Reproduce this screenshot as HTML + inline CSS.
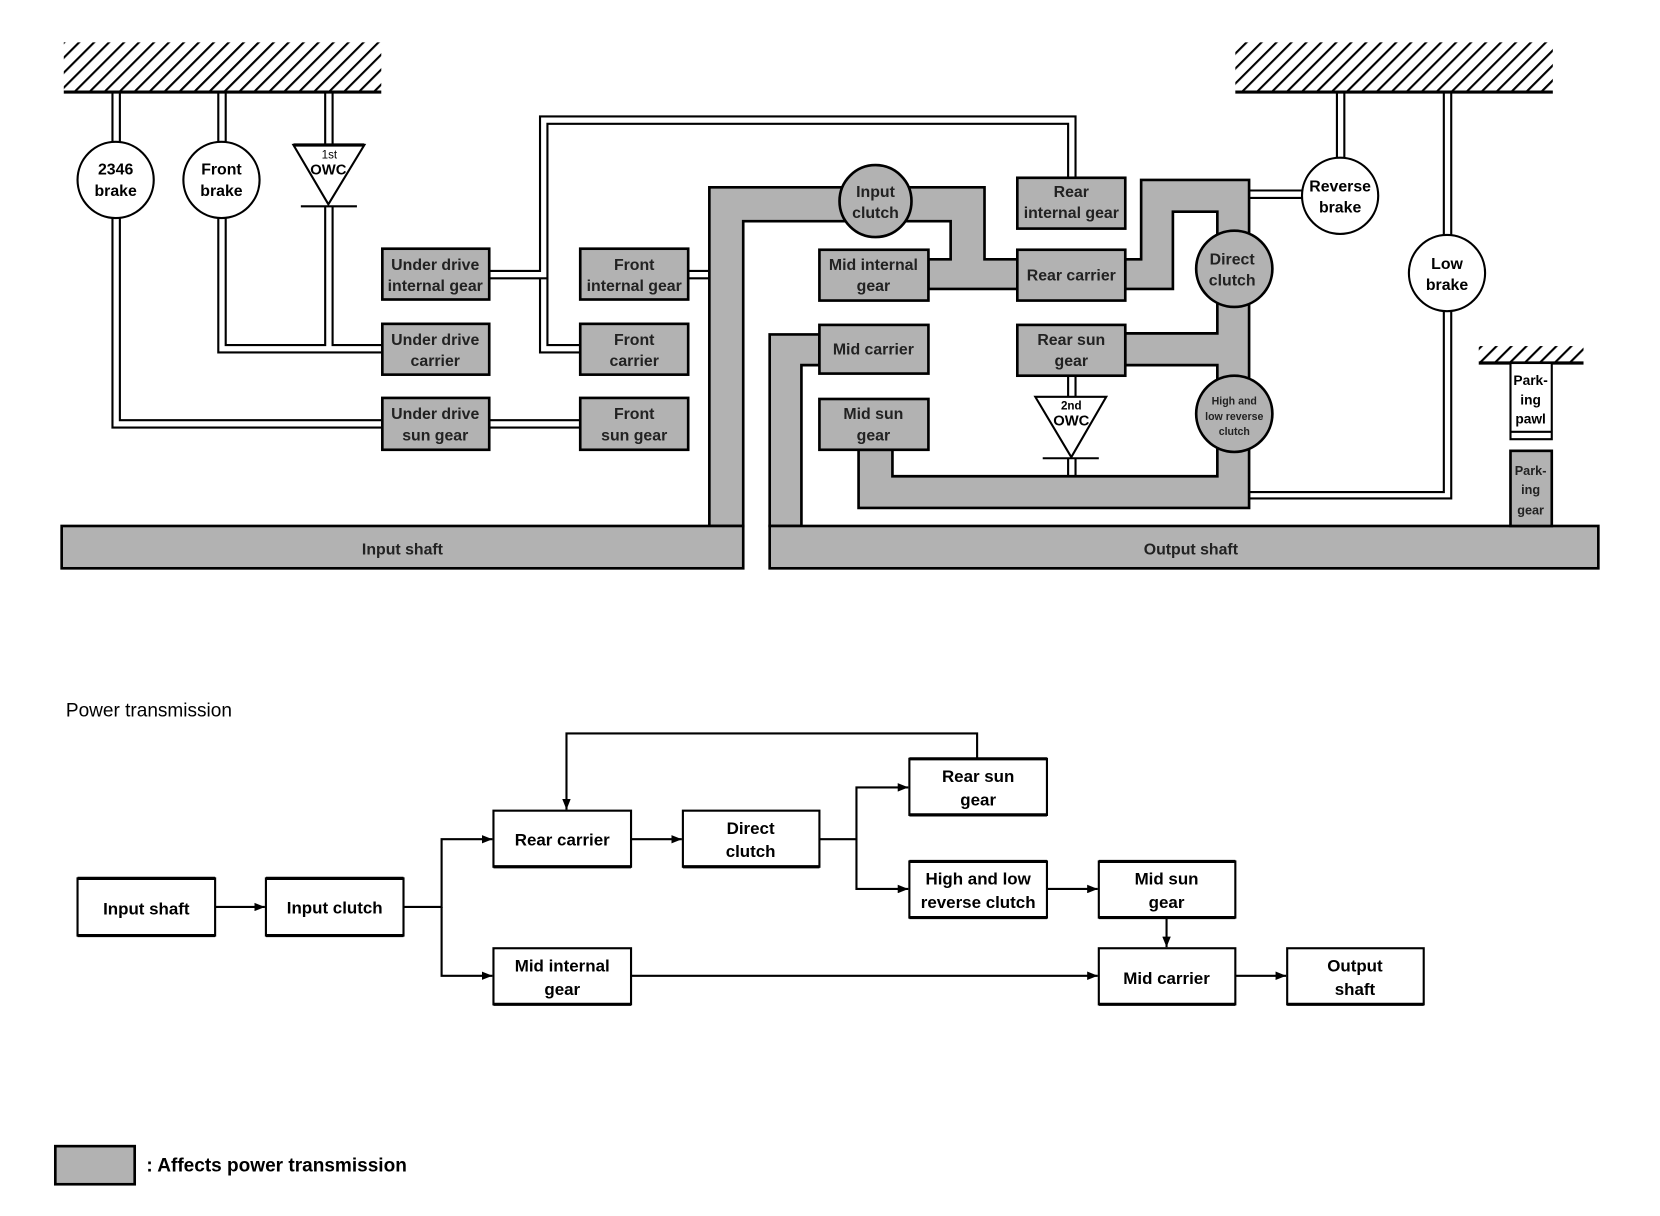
<!DOCTYPE html>
<html><head><meta charset="utf-8"><style>
html,body{margin:0;padding:0;background:#fff;}
svg{display:block}
text{font-family:"Liberation Sans",Arial,sans-serif;font-weight:bold;text-anchor:middle;}
.sh{fill:#b2b2b2;stroke:#000;stroke-width:2.5}
.bx{fill:#fff;stroke:#000;stroke-width:2}
.l{fill:none;stroke:#000;stroke-width:2}
.t{font-size:15px;fill:#222}
.w{font-size:15px;fill:#000}
.f{font-size:16px;font-weight:bold;fill:#000}
</style></head><body>
<svg width="1660" height="1216" viewBox="0 0 1568 1149" xmlns="http://www.w3.org/2000/svg">
<defs>
<pattern id="h" width="10" height="10" patternUnits="userSpaceOnUse" patternTransform="rotate(45)">
<rect width="10" height="10" fill="#fff"/><rect width="2" height="10" fill="#000"/>
</pattern>
<marker id="a" markerWidth="10" markerHeight="8" refX="10" refY="4" orient="auto" markerUnits="userSpaceOnUse">
<path d="M0,0 L10,4 L0,8 z" fill="#000"/></marker>
</defs>

<rect x="60" y="40" width="300" height="46" fill="url(#h)"/><line x1="60" y1="87" x2="360" y2="87" stroke="#000" stroke-width="3"/>
<rect x="1167" y="40" width="300" height="46" fill="url(#h)"/><line x1="1167" y1="87" x2="1467" y2="87" stroke="#000" stroke-width="3"/>
<rect x="1397" y="327" width="99" height="15" fill="url(#h)"/><line x1="1397" y1="343" x2="1496" y2="343" stroke="#000" stroke-width="3"/>

<g class="l">
<path d="M106,88 V134 M113,88 V134"/>
<path d="M106,206 V404 H361 M113,206 V397 H361"/>
<path d="M462,397 H548 M462,404 H548"/>
<path d="M206,88 V134 M213,88 V134"/>
<path d="M206,206 V333 H361 M213,206 V326 H307 V195 M314,195 V326 H361"/>
<path d="M307,88 V137 M314,88 V137"/>
<path d="M462,256 H510 V110 H1016 V168 M462,263 H517 V117 H1009 V168"/>
<path d="M510,263 V333 H548 M517,263 V326 H548"/>
<path d="M650,256 H670 M650,263 H670"/>
<path d="M1263,88 V149 M1270,88 V149 M1180,180 H1230 M1180,187 H1230"/>
<path d="M1364,88 V222 M1371,88 V222 M1364,294 V465 H1180 M1371,294 V471 H1180"/>
<path d="M1009,355 V375 M1016,355 V375 M1009,433 V450 M1016,433 V450"/>
</g>

<g>
<path class="sh" d="M670,497 V177 H930 V245 H962 V273 H877 V245 H898 V209 H702 V497 Z"/>
<path class="sh" d="M1063,245 H1078 V170 H1180 V480 H811 V425 H843 V450 H1150 V345 H1063 V315 H1150 V200 H1108 V273 H1063 Z"/>
<path class="sh" d="M727,497 V316 H774 V345 H757 V497 Z"/>
<rect class="sh" x="58" y="497" width="644" height="40"/>
<rect class="sh" x="727" y="497" width="783" height="40"/>
<rect class="sh" x="1427" y="426" width="39" height="71"/>
</g>
<text class="t" x="380" y="524">Input shaft</text>
<text class="t" x="1125" y="524">Output shaft</text>

<g>
<rect class="sh" x="361" y="235" width="101" height="48"/>
<rect class="sh" x="361" y="306" width="101" height="48"/>
<rect class="sh" x="361" y="376" width="101" height="49"/>
<rect class="sh" x="548" y="235" width="102" height="48"/>
<rect class="sh" x="548" y="306" width="102" height="48"/>
<rect class="sh" x="548" y="376" width="102" height="49"/>
<rect class="sh" x="774" y="236" width="103" height="48"/>
<rect class="sh" x="774" y="307" width="103" height="46"/>
<rect class="sh" x="774" y="377" width="103" height="48"/>
<rect class="sh" x="961" y="168" width="102" height="48"/>
<rect class="sh" x="961" y="236" width="102" height="48"/>
<rect class="sh" x="961" y="307" width="102" height="48"/>
<circle class="sh" cx="827" cy="190" r="34"/>
<circle class="sh" cx="1166" cy="254" r="36"/>
<circle class="sh" cx="1166" cy="391" r="36"/>
</g>
<g class="t">
<text x="411" y="255">Under drive</text><text x="411" y="275">internal gear</text>
<text x="411" y="326">Under drive</text><text x="411" y="346">carrier</text>
<text x="411" y="396">Under drive</text><text x="411" y="416">sun gear</text>
<text x="599" y="255">Front</text><text x="599" y="275">internal gear</text>
<text x="599" y="326">Front</text><text x="599" y="346">carrier</text>
<text x="599" y="396">Front</text><text x="599" y="416">sun gear</text>
<text x="825" y="255">Mid internal</text><text x="825" y="275">gear</text>
<text x="825" y="335">Mid carrier</text>
<text x="825" y="396">Mid sun</text><text x="825" y="416">gear</text>
<text x="1012" y="186">Rear</text><text x="1012" y="206">internal gear</text>
<text x="1012" y="265">Rear carrier</text>
<text x="1012" y="326">Rear sun</text><text x="1012" y="346">gear</text>
<text x="827" y="186">Input</text><text x="827" y="206">clutch</text>
<text x="1164" y="250">Direct</text><text x="1164" y="270">clutch</text>
<text x="1166" y="382" style="font-size:10px">High and</text><text x="1166" y="397" style="font-size:10px">low reverse</text><text x="1166" y="411" style="font-size:10px">clutch</text>
<text x="1446" y="449" style="font-size:12px">Park-</text><text x="1446" y="467" style="font-size:12px">ing</text><text x="1446" y="486" style="font-size:12px">gear</text>
</g>

<g class="bx">
<ellipse cx="109" cy="170" rx="36" ry="36"/>
<ellipse cx="209" cy="170" rx="36" ry="36"/>
<ellipse cx="1266" cy="185" rx="36" ry="36"/>
<ellipse cx="1367" cy="258" rx="36" ry="36"/>
<path d="M277,137 H344 L310,193 Z"/>
<path d="M978,375 H1045 L1012,432 Z"/>
<rect x="1427" y="343" width="39" height="72"/>
</g>
<line x1="277" y1="137" x2="344" y2="137" stroke="#000" stroke-width="3"/>
<line x1="284" y1="195" x2="337" y2="195" stroke="#000" stroke-width="2"/>
<line x1="985" y1="433" x2="1038" y2="433" stroke="#000" stroke-width="2"/>
<line x1="1427" y1="408" x2="1466" y2="408" stroke="#000" stroke-width="2"/>
<g class="w">
<text x="109" y="165">2346</text><text x="109" y="185">brake</text>
<text x="209" y="165">Front</text><text x="209" y="185">brake</text>
<text x="1266" y="181">Reverse</text><text x="1266" y="201">brake</text>
<text x="1367" y="254">Low</text><text x="1367" y="274">brake</text>
<text x="311" y="150" style="font-size:11px;font-weight:normal">1st</text><text x="310" y="165" style="font-size:14px">OWC</text>
<text x="1012" y="387" style="font-size:11px">2nd</text><text x="1012" y="402" style="font-size:14px">OWC</text>
<text x="1446" y="364" style="font-size:13px">Park-</text><text x="1446" y="382" style="font-size:13px">ing</text><text x="1446" y="400" style="font-size:13px">pawl</text>
</g>

<text x="62" y="677" style="font-size:18px;font-weight:normal;text-anchor:start">Power transmission</text>
<g class="bx">
<rect x="73" y="830" width="130" height="54"/>
<rect x="251" y="830" width="130" height="54"/>
<rect x="466" y="766" width="130" height="53"/>
<rect x="645" y="766" width="129" height="53"/>
<rect x="859" y="717" width="130" height="53"/>
<rect x="859" y="814" width="130" height="53"/>
<rect x="1038" y="814" width="129" height="53"/>
<rect x="466" y="896" width="130" height="53"/>
<rect x="1038" y="896" width="129" height="53"/>
<rect x="1216" y="896" width="129" height="53"/>
</g>
<g stroke="#000" stroke-width="3">
<line x1="73" y1="830" x2="203" y2="830"/><line x1="73" y1="884" x2="203" y2="884"/>
<line x1="251" y1="830" x2="381" y2="830"/><line x1="251" y1="884" x2="381" y2="884"/>
<line x1="466" y1="819" x2="596" y2="819"/><line x1="645" y1="819" x2="774" y2="819"/>
<line x1="859" y1="717" x2="989" y2="717"/><line x1="859" y1="770" x2="989" y2="770"/>
<line x1="859" y1="814" x2="989" y2="814"/><line x1="859" y1="867" x2="989" y2="867"/>
<line x1="1038" y1="814" x2="1167" y2="814"/><line x1="1038" y1="867" x2="1167" y2="867"/>
<line x1="466" y1="949" x2="596" y2="949"/><line x1="1038" y1="949" x2="1167" y2="949"/><line x1="1216" y1="949" x2="1345" y2="949"/>
</g>
<g fill="none" stroke="#000" stroke-width="2">
<path d="M203,857 H250" marker-end="url(#a)"/>
<path d="M381,857 H417 V793 H465" marker-end="url(#a)"/>
<path d="M417,857 V922 H465" marker-end="url(#a)"/>
<path d="M596,793 H644" marker-end="url(#a)"/>
<path d="M774,793 H809 V744 H858" marker-end="url(#a)"/>
<path d="M809,793 V840 H858" marker-end="url(#a)"/>
<path d="M989,840 H1037" marker-end="url(#a)"/>
<path d="M1102,867 V895" marker-end="url(#a)"/>
<path d="M596,922 H1037" marker-end="url(#a)"/>
<path d="M1167,922 H1215" marker-end="url(#a)"/>
<path d="M923,717 V693 H535 V765" marker-end="url(#a)"/>
</g>
<g class="f">
<text x="138" y="864">Input shaft</text>
<text x="316" y="863">Input clutch</text>
<text x="531" y="799">Rear carrier</text>
<text x="709" y="788">Direct</text><text x="709" y="810">clutch</text>
<text x="924" y="739">Rear sun</text><text x="924" y="761">gear</text>
<text x="924" y="836">High and low</text><text x="924" y="858">reverse clutch</text>
<text x="1102" y="836">Mid sun</text><text x="1102" y="858">gear</text>
<text x="531" y="918">Mid internal</text><text x="531" y="940">gear</text>
<text x="1102" y="930">Mid carrier</text>
<text x="1280" y="918">Output</text><text x="1280" y="940">shaft</text>
</g>

<rect class="sh" x="52" y="1083" width="75" height="36"/>
<text x="138" y="1107" style="font-size:18px;font-weight:bold;text-anchor:start">: Affects power transmission</text>
</svg>
</body></html>
